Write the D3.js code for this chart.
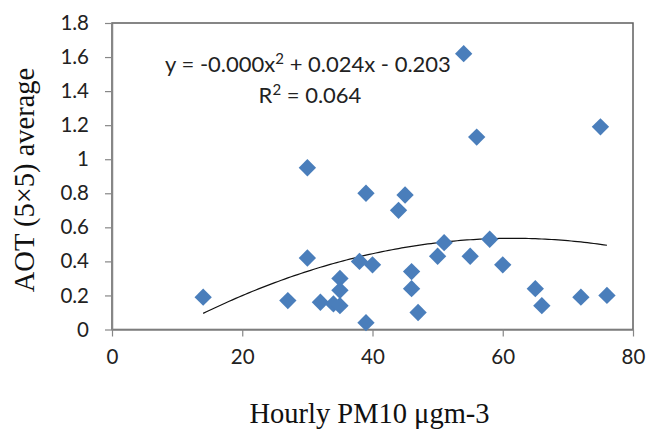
<!DOCTYPE html>
<html>
<head>
<meta charset="utf-8">
<script src="https://cdn.jsdelivr.net/npm/d3@7"></script>
<style>
  html, body { margin: 0; padding: 0; background: #fff; }
  svg { display: block; }
</style>
</head>
<body>
<svg></svg>
<script>
const width = 648;
const height = 429;

// hourly PM10 (x) and AOT 5x5 average (y)
const pm10 = [14, 27, 30, 30, 32, 34, 35, 35, 35, 38, 39, 39, 40, 44, 45,
              46, 46, 47, 50, 51, 54, 55, 56, 58, 60, 65, 66, 72, 75, 76];
const aot = [0.19, 0.17, 0.95, 0.42, 0.16, 0.15, 0.30, 0.23, 0.14, 0.40, 0.80, 0.04, 0.38, 0.70, 0.79,
             0.34, 0.24, 0.10, 0.43, 0.51, 1.62, 0.43, 1.13, 0.53, 0.38, 0.24, 0.14, 0.19, 1.19, 0.20];
const xTicks = [0, 20, 40, 60, 80];
const yTicks = [0, 0.2, 0.4, 0.6, 0.8, 1, 1.2, 1.4, 1.6, 1.8];
// polynomial trend line coefficients (a x^2 + b x + c)
const trendCoef = [-0.000195, 0.024, -0.203];

let data = pm10.map((d, i) => ({x: d, y: aot[i]}));

let plot = {left: 112, right: 633, top: 23, bottom: 329.5};

//scales
let xScale = d3.scaleLinear()
            .domain([0, 80])
            .range([plot.left, plot.right]);
let yScale = d3.scaleLinear()
            .domain([0, 1.8])
            .range([plot.bottom, plot.top]);

let svg = d3.select("svg")
            .attr("width", width)
            .attr("height", height);

//plot area border
svg.append("rect")
    .attr("x", plot.left)
    .attr("y", plot.top)
    .attr("width", plot.right - plot.left)
    .attr("height", plot.bottom - plot.top)
    .attr("fill", "none")
    .attr("stroke", "#5f5f5f")
    .attr("stroke-width", 1.5);

//axes
let xAxis = d3.axisBottom(xScale)
            .tickValues(xTicks)
            .tickSize(7)
            .tickSizeOuter(0)
            .tickPadding(9)
            .tickFormat(d3.format("d"));
let yAxis = d3.axisLeft(yScale)
            .tickValues(yTicks)
            .tickSize(7)
            .tickSizeOuter(0)
            .tickPadding(16)
            .tickFormat(d => d3.format("")(+d.toFixed(1)));

let gx = svg.append("g")
    .attr("transform", `translate(0, ${plot.bottom})`)
    .call(xAxis);
let gy = svg.append("g")
    .attr("transform", `translate(${plot.left}, 0)`)
    .call(yAxis);

[gx, gy].forEach(g => {
    g.select(".domain").attr("stroke", "#878787").attr("stroke-width", 1.5);
    g.selectAll(".tick line").attr("stroke", "#878787").attr("stroke-width", 1.2);
    g.selectAll(".tick text")
        .attr("fill", "#222")
        .style("font-family", "Lato, 'Open Sans', sans-serif")
        .style("font-size", "20.5px");
});
gx.selectAll(".tick text").attr("dy", "0.9em");

//trend line
let trend = d3.range(d3.min(pm10), d3.max(pm10) + 0.5, 0.5)
    .map(x => ({x: x, y: trendCoef[0] * x * x + trendCoef[1] * x + trendCoef[2]}));

svg.append("path")
    .datum(trend)
    .attr("fill", "none")
    .attr("stroke", "#111")
    .attr("stroke-width", 1.2)
    .attr("d", d3.line().x(d => xScale(d.x)).y(d => yScale(d.y)));

//points
svg.selectAll(".pt")
    .data(data)
    .enter()
    .append("path")
        .attr("class", "pt")
        .attr("d", d3.symbol(d3.symbolSquare, 150)())
        .attr("transform", d => `translate(${xScale(d.x)}, ${yScale(d.y)}) rotate(45)`)
        .attr("fill", "#4a7ebb");

//equation label
let eq = svg.append("text")
    .attr("x", 308)
    .attr("y", 72)
    .style("font-family", "Lato, 'Open Sans', sans-serif")
    .style("font-size", "22px")
    .attr("fill", "#222")
    .style("text-anchor", "middle");
eq.append("tspan").text("y = -0.000x");
eq.append("tspan").attr("dy", -8).style("font-size", "15px").text("2");
eq.append("tspan").attr("dy", 8).text(" + 0.024x - 0.203");

let r2 = svg.append("text")
    .attr("x", 310)
    .attr("y", 103)
    .style("font-family", "Lato, 'Open Sans', sans-serif")
    .style("font-size", "22px")
    .attr("fill", "#222")
    .style("text-anchor", "middle");
r2.append("tspan").text("R");
r2.append("tspan").attr("dy", -8).style("font-size", "15px").text("2");
r2.append("tspan").attr("dy", 8).text(" = 0.064");

//axis titles
svg.append("text")
    .attr("x", (plot.left + plot.right) / 2 - 3)
    .attr("y", 423)
    .style("text-anchor", "middle")
    .style("font-family", "'Liberation Serif', 'Times New Roman', serif")
    .style("font-size", "28.5px")
    .attr("fill", "#111")
    .text("Hourly PM10 \u03bcgm-3");

svg.append("text")
    .attr("transform", "rotate(-90)")
    .attr("x", -180)
    .attr("y", 34)
    .style("text-anchor", "middle")
    .style("font-family", "'Liberation Serif', 'Times New Roman', serif")
    .style("font-size", "28.5px")
    .attr("fill", "#111")
    .text("AOT (5\u00d75) average");
</script>
</body>
</html>
